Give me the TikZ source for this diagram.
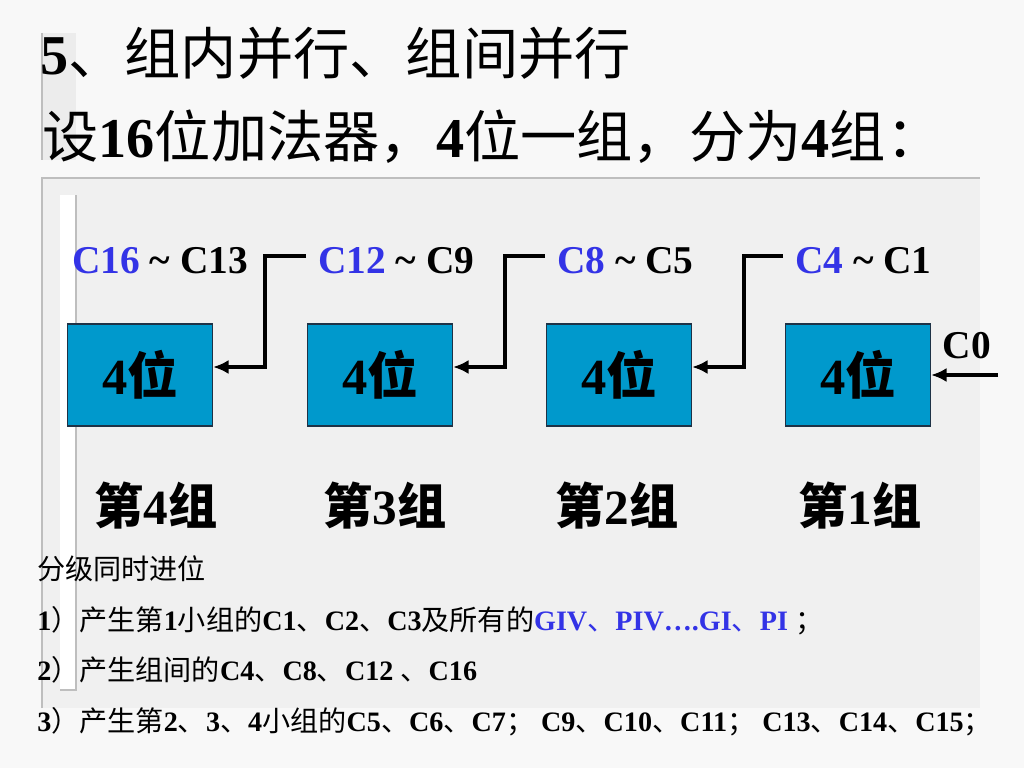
\documentclass[tikz,border=0pt]{standalone}
\usepackage{fontspec}
\setmainfont{Liberation Serif}
\newfontfamily\cjk{Noto Sans CJK SC}
\usepackage{tikz}
\usetikzlibrary{calc}
\usetikzlibrary{arrows.meta}
\definecolor{pagebg}{RGB}{248,248,248}
\definecolor{panelgray}{RGB}{240,240,240}
\definecolor{stripgray}{RGB}{236,236,236}
\definecolor{edgegray}{RGB}{190,190,190}
\definecolor{boxblue}{RGB}{0,153,204}
\definecolor{boxedge}{RGB}{30,50,70}
\definecolor{cblue}{RGB}{51,51,230}
\newcommand\zh[1]{{\cjk\mdseries #1}}
\newcommand\zhb[1]{{\cjk\bfseries #1}}
\tikzset{bitbox/.style={rectangle,draw=boxedge,fill=boxblue,line width=0.8pt,minimum width=3.625cm,minimum height=2.55cm,inner sep=0pt,font=\fontsize{36}{40}\selectfont\bfseries}}
\tikzset{grp/.style={anchor=base,inner sep=0pt,font=\fontsize{35}{40}\selectfont\bfseries}}
\tikzset{lbl/.style={anchor=base west,inner sep=0pt,font=\fontsize{28}{32}\selectfont\bfseries}}
\tikzset{ttl/.style={anchor=base west,inner sep=0pt,font=\fontsize{40}{48}\selectfont\bfseries}}
\tikzset{note/.style={anchor=base west,inner sep=0pt,font=\fontsize{20}{24}\selectfont\bfseries}}
\tikzset{carry/.style={line width=3pt,-{Latex[length=11pt,width=10pt]}}}

\begin{document}
\begin{tikzpicture}[x=0.025cm,y=-0.025cm]
\useasboundingbox (0,0) rectangle (1024,768);
\fill[pagebg] (0,0) rectangle (1024,768);
\fill[stripgray] (42,33) rectangle (76,160);
\draw[edgegray,line width=1pt] (42,33) -- (42,160);
\fill[panelgray] (42,178) rectangle (980,708);
\draw[edgegray,line width=1.2pt] (42,708) -- (42,178) -- (980,178);
\fill[white] (60,195) rectangle (76,690);
\draw[edgegray,line width=0.8pt] (76,195) -- (76,690) -- (60,690);

\node[ttl] (t1) at (40,75) {5\zh{、组内并行、组间并行}};
\node[ttl] (t2) at (42,157) {\zh{设}16\zh{位加法器，}4\zh{位一组，分为}4\zh{组：}};

\foreach \g/\x/\gx in {4/140/156, 3/380/385, 2/619/617, 1/858/860} {
	\node[bitbox] (b\g) at (\x,375) {4\zhb{位}};
	\node[grp] (g\g) at (\gx,524) {\zhb{第}\g\zhb{组}};
}
\foreach \g/\hi/\lo/\x in {4/C16/C13/72, 3/C12/C9/318, 2/C8/C5/557, 1/C4/C1/795} {
	\node[lbl] (lbl\g) at (\x,273) {\textcolor{cblue}{\hi} \textasciitilde{} \lo};
}
\foreach \s/\d in {3/4,2/3,1/2} {
	\draw[carry] ($(lbl\s.west)+(-12,-4)$) -| ($(b\d.east)+(52,-8)$) -- ($(b\d.east)+(0,-8)$);
}
\node[lbl,anchor=base] (c0) at (967,358) {C0};
\coordinate (cin) at (998,375);
\draw[carry] (cin) -- (b1.east);

\node[note] (n0) at (37,579) {\zh{分级同时进位}};
\node[note] (n1) at (37,630) {1\zh{）产生第}1\zh{小组的}C1\zh{、}C2\zh{、}C3\zh{及所有的}\textcolor{cblue}{GIV\zh{、}PIV….GI\zh{、}PI} \zh{；}};
\node[note] (n2) at (37,680) {2\zh{）产生组间的}C4\zh{、}C8\zh{、}C12 \zh{、}C16};
\node[note] (n3) at (37,731) {3\zh{）产生第}2\zh{、}3\zh{、}4\zh{小组的}C5\zh{、}C6\zh{、}C7\zh{；} C9\zh{、}C10\zh{、}C11\zh{；} C13\zh{、}C14\zh{、}C15\zh{；}};
\end{tikzpicture}
\end{document}
